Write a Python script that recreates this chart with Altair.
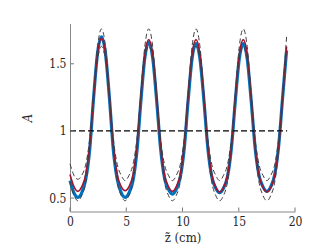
import altair as alt
import pandas as pd

z = [0, 0.35, 0.7, 1.05, 1.4, 1.75, 2.1, 2.45, 2.8, 3.15, 3.5, 3.85, 4.2, 4.55,
     4.9, 5.25, 5.6, 5.95, 6.3, 6.65, 7.0, 7.35, 7.7, 8.05, 8.4, 8.75, 9.1, 9.45,
     9.8, 10.15, 10.5, 10.85, 11.2, 11.55, 11.9, 12.25, 12.6, 12.95, 13.3, 13.65,
     14.0, 14.35, 14.7, 15.05, 15.4, 15.75, 16.1, 16.45, 16.8, 17.15, 17.5, 17.85,
     18.2, 18.55, 18.9, 19.25]

blue = [0.63, 0.54, 0.505, 0.54, 0.64, 0.86, 1.25, 1.58, 1.70, 1.58, 1.25, 0.86,
        0.64, 0.54, 0.505, 0.54, 0.63, 0.85, 1.22, 1.545, 1.66, 1.545, 1.23, 0.87,
        0.65, 0.565, 0.53, 0.565, 0.655, 0.865, 1.225, 1.54, 1.65, 1.54, 1.23, 0.875,
        0.66, 0.575, 0.54, 0.575, 0.66, 0.875, 1.23, 1.54, 1.65, 1.54, 1.23, 0.88,
        0.67, 0.585, 0.55, 0.585, 0.675, 0.89, 1.25, 1.60]

red = [0.675, 0.585, 0.55, 0.585, 0.675, 0.89, 1.255, 1.575, 1.69, 1.575, 1.255, 0.89,
       0.675, 0.585, 0.555, 0.585, 0.675, 0.89, 1.255, 1.57, 1.68, 1.57, 1.255, 0.89,
       0.675, 0.585, 0.55, 0.585, 0.675, 0.89, 1.255, 1.57, 1.68, 1.57, 1.255, 0.89,
       0.675, 0.58, 0.545, 0.58, 0.67, 0.885, 1.25, 1.57, 1.68, 1.57, 1.25, 0.885,
       0.67, 0.58, 0.545, 0.58, 0.67, 0.885, 1.25, 1.63]

dash_outer = [0.62, 0.52, 0.48, 0.52, 0.62, 0.865, 1.275, 1.63, 1.76, 1.63, 1.275, 0.865,
              0.62, 0.52, 0.48, 0.52, 0.62, 0.865, 1.275, 1.63, 1.76, 1.63, 1.275, 0.865,
              0.62, 0.52, 0.48, 0.52, 0.62, 0.865, 1.275, 1.63, 1.76, 1.63, 1.275, 0.865,
              0.62, 0.52, 0.48, 0.52, 0.62, 0.865, 1.275, 1.63, 1.76, 1.63, 1.275, 0.865,
              0.62, 0.52, 0.48, 0.52, 0.62, 0.865, 1.275, 1.70]

dash_inner = [0.755, 0.67, 0.64, 0.67, 0.75, 0.94, 1.255, 1.53, 1.63, 1.53, 1.255, 0.94,
              0.75, 0.67, 0.63, 0.67, 0.75, 0.94, 1.255, 1.53, 1.63, 1.53, 1.255, 0.94,
              0.75, 0.67, 0.63, 0.67, 0.75, 0.94, 1.255, 1.53, 1.63, 1.53, 1.255, 0.94,
              0.75, 0.67, 0.63, 0.67, 0.75, 0.94, 1.255, 1.53, 1.63, 1.53, 1.255, 0.94,
              0.75, 0.67, 0.63, 0.67, 0.75, 0.94, 1.255, 1.58]

ref_x = [0, 19.3]
ref_y = [1, 1]

x_ticks = [0, 5, 10, 15, 20]
y_ticks = [0.5, 1, 1.5]

df = pd.DataFrame({"z": z, "blue": blue, "red": red,
                   "dout": dash_outer, "din": dash_inner})
ref = pd.DataFrame({"z": ref_x, "A": ref_y})
xt = pd.DataFrame({"z": x_ticks})
yt = pd.DataFrame({"A": y_ticks})

FONT = "DejaVu Serif Condensed, DejaVu Serif"
xscale = alt.Scale(domain=[0, 20], nice=False)
yscale = alt.Scale(domain=[0.4, 1.8], nice=False, zero=False)

common = dict(grid=False, ticks=False, labelFont=FONT, titleFont=FONT,
              labelFontSize=12, titleFontSize=13, titleFontWeight="normal",
              labelColor="#262626", titleColor="#262626", labelFlush=False,
              domainColor="#888888", domainWidth=1)

xaxis = alt.Axis(values=x_ticks, title="z\u0303 (cm)", labelPadding=5,
                 titlePadding=4, format="d", **common)
yaxis = alt.Axis(values=y_ticks, title="A", labelPadding=4, titlePadding=14,
                 titleFontStyle="italic",
                 labelExpr="datum.value == 1 ? '1' : format(datum.value, '.1f')",
                 **common)

X = alt.X("z:Q", scale=xscale, axis=xaxis)


def Y(field):
    return alt.Y(f"{field}:Q", scale=yscale, axis=yaxis)


base = alt.Chart(df)


def line(field, color, width, dash=None):
    kw = dict(color=color, strokeWidth=width, interpolate="monotone")
    if dash:
        kw["strokeDash"] = dash
    return base.mark_line(**kw).encode(x=X, y=Y(field))


l_blue = line("blue", "#0072BD", 3.2)
l_red = line("red", "#A2142F", 1.6)
l_out = line("dout", "#404040", 1.0, dash=[5, 3])
l_in = line("din", "#404040", 1.0, dash=[5, 3])

l_ref = alt.Chart(ref).mark_line(color="#000000", strokeWidth=1.3, strokeDash=[6, 3]).encode(
    x=X, y=Y("A"))

tx = alt.Chart(xt).mark_rule(color="#777777", strokeWidth=1).encode(
    x=X, y=alt.value(188), y2=alt.value(184))
ty = alt.Chart(yt).mark_rule(color="#777777", strokeWidth=1).encode(
    y=Y("A"), x=alt.value(0), x2=alt.value(4))

chart = alt.layer(l_blue, l_red, l_ref, l_out, l_in, tx, ty).properties(
    width=225, height=188,
    autosize=alt.AutoSizeParams(type="none"),
    padding={"left": 62, "top": 15.5, "right": 20, "bottom": 36},
).configure_view(strokeWidth=0)

chart.save("out.html", embed_options={"renderer": "svg", "actions": False})
